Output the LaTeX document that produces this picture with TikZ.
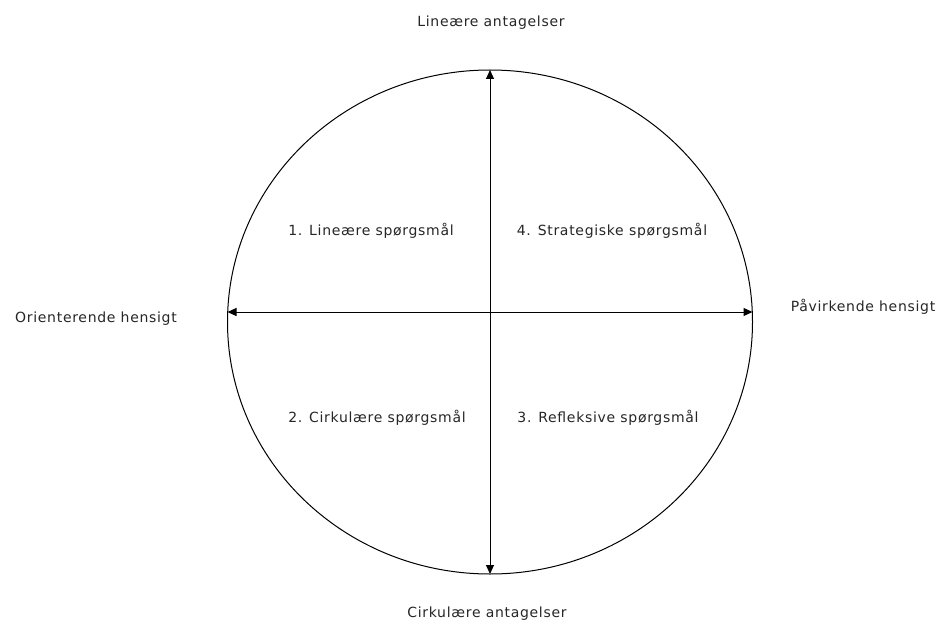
\documentclass[tikz,border=0pt]{standalone}
\usepackage{fontspec}
\setmainfont{DejaVu Sans}
\newfontfamily\lblfont[LetterSpace=5]{DejaVu Sans}
\usetikzlibrary{arrows.meta}
\begin{document}
\begin{tikzpicture}[x=1pt,y=-1pt,
  lbl/.style={inner sep=0pt, font=\lblfont\fontsize{14}{16}\selectfont, text=black!85},
  axis/.style={line width=1pt, {Triangle[length=9pt,width=8pt]}-{Triangle[length=9pt,width=8pt]}}]
\useasboundingbox (0,0) rectangle (943,623);
\draw[line width=1pt] (490,322) ellipse [x radius=262.5, y radius=252];
\coordinate (top) at (490,70);
\coordinate (bottom) at (490,574);
\coordinate (left) at (227.5,312);
\coordinate (right) at (752.5,312);
\draw[axis] (top) -- (bottom);
\draw[axis] (left) -- (right);
\node[lbl] (tl) at (491,23) {Lineære antagelser};
\node[lbl] (bl) at (487,614) {Cirkulære antagelser};
\node[lbl] (ll) at (96,319) {Orienterende hensigt};
\node[lbl] (rl) at (863,307) {Påvirkende hensigt};
\node[lbl] (q1) at (371,231) {1. Lineære spørgsmål};
\node[lbl] (q4) at (612,231) {4. Strategiske spørgsmål};
\node[lbl] (q2) at (377,418) {2. Cirkulære spørgsmål};
\node[lbl] (q3) at (608,418) {3. Refleksive spørgsmål};
\end{tikzpicture}
\end{document}
